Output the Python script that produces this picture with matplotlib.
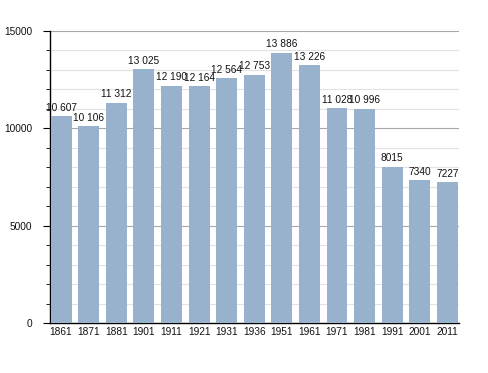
import matplotlib.pyplot as plt
from matplotlib.ticker import MultipleLocator

years = ["1861", "1871", "1881", "1901", "1911", "1921", "1931", "1936",
         "1951", "1961", "1971", "1981", "1991", "2001", "2011"]
population = [10607, 10106, 11312, 13025, 12190, 12164, 12564, 12753,
              13886, 13226, 11028, 10996, 8015, 7340, 7227]

plt.rcParams["font.family"] = ["Liberation Sans", "DejaVu Sans"]


def fmt(v):
    # thousands separated by a space, small numbers kept plain
    if v < 10000:
        return str(v)
    return "{:,}".format(v).replace(",", " ")


fig = plt.figure(figsize=(4.88, 3.73), dpi=100)
ax = fig.add_axes([0.1025, 0.134, 0.838, 0.783])

x = list(range(len(years)))
ax.bar(x, population, width=0.76, color="#98b2cd", zorder=3)

for xi, v in zip(x, population):
    ax.text(xi, v + 180, fmt(v), ha="center", va="bottom", fontsize=7.3,
            color="#111111", zorder=4)

ax.set_xlim(-0.4, 14.42)
ax.set_ylim(0, 15000)
ax.yaxis.set_major_locator(MultipleLocator(5000))
ax.yaxis.set_minor_locator(MultipleLocator(1000))
ax.grid(axis="y", which="major", color="#a8a8a8", linewidth=0.8, zorder=1)
ax.grid(axis="y", which="minor", color="#e2e2e2", linewidth=0.8, zorder=1)

ax.set_xticks(x)
ax.set_xticklabels(years)
ax.tick_params(axis="x", length=0, labelsize=7.3, pad=3, labelcolor="#111111")
ax.tick_params(axis="y", which="major", length=5, labelsize=7.3, pad=8,
               labelcolor="#111111")
ax.tick_params(axis="y", which="minor", length=3)

for s in ["top", "right"]:
    ax.spines[s].set_visible(False)
ax.spines["left"].set_linewidth(1)
ax.spines["bottom"].set_linewidth(1)

fig.savefig("out.png", dpi=100)
